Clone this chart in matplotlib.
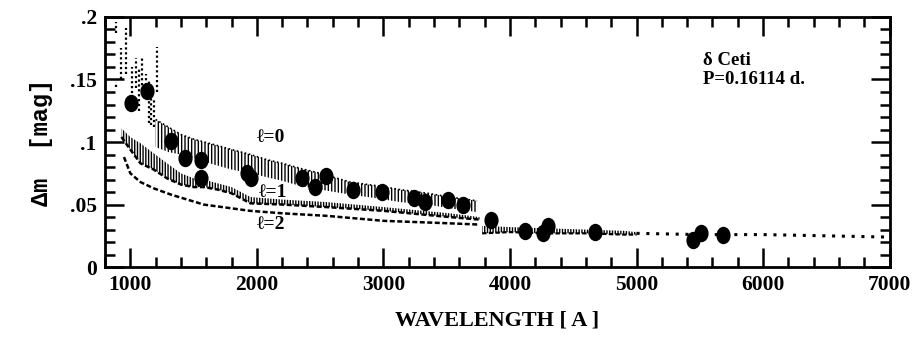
import numpy as np
import matplotlib.pyplot as plt
from matplotlib.path import Path
from matplotlib.transforms import Affine2D
from matplotlib.ticker import MultipleLocator, FixedLocator

plt.rcParams['font.family'] = ['Liberation Serif', 'DejaVu Serif']
plt.rcParams['font.weight'] = 'bold'
plt.rcParams['axes.labelweight'] = 'bold'
plt.rcParams['hatch.linewidth'] = 1.0

# --- observed amplitudes (filled circles) ---
obs_wave = [1005, 1130, 1320, 1430, 1560, 1560, 1920, 1950, 2355, 2460, 2550,
            2760, 2990, 3240, 3330, 3510, 3630, 3850, 4120, 4260, 4300, 4670,
            5445, 5510, 5680]
obs_dm = [0.131, 0.141, 0.101, 0.087, 0.086, 0.071, 0.075, 0.071, 0.071, 0.064,
          0.073, 0.062, 0.060, 0.055, 0.052, 0.054, 0.050, 0.038, 0.029, 0.027,
          0.033, 0.028, 0.022, 0.027, 0.026]

# --- l=0 model: scattered columns at short wavelengths ---
l0_col_wave = [890, 890, 925, 965, 1010, 1045, 1065, 1090, 1125, 1145, 1165,
               1185, 1210]
l0_col_lo = [0.187, 0.144, 0.150, 0.154, 0.135, 0.143, 0.125, 0.138, 0.138,
             0.115, 0.114, 0.112, 0.140]
l0_col_hi = [0.196, 0.148, 0.175, 0.191, 0.160, 0.167, 0.160, 0.167, 0.154,
             0.150, 0.140, 0.135, 0.176]

# --- l=0 model band ---
l0_wave = [1200, 1300, 1400, 1510, 1660, 1800, 1950, 2075, 2200, 2340, 2500,
           2735, 2950, 3130, 3350, 3525, 3740]
l0_hi = [0.118, 0.112, 0.106, 0.102, 0.098, 0.094, 0.090, 0.086, 0.083, 0.079,
         0.075, 0.068, 0.065, 0.062, 0.059, 0.056, 0.053]
l0_lo = [0.096, 0.092, 0.090, 0.087, 0.082, 0.078, 0.075, 0.072, 0.069, 0.065,
         0.062, 0.058, 0.055, 0.052, 0.050, 0.047, 0.044]

# --- l=1 model band ---
l1_wave = [930, 1000, 1080, 1185, 1290, 1400, 1500, 1580, 1690, 1800, 1950,
           2205, 2550, 3000, 3525, 3760]
l1_hi = [0.111, 0.104, 0.099, 0.091, 0.083, 0.075, 0.071, 0.070, 0.067, 0.064,
         0.056, 0.054, 0.052, 0.048, 0.043, 0.040]
l1_lo = [0.104, 0.094, 0.083, 0.078, 0.071, 0.066, 0.064, 0.064, 0.062, 0.059,
         0.051, 0.050, 0.048, 0.045, 0.040, 0.038]

# --- l=2 model curve ---
l2_wave = [950, 1000, 1080, 1185, 1320, 1450, 1580, 1800, 1945, 2205, 2550,
           3000, 3525, 3760]
l2_dm = [0.088, 0.075, 0.068, 0.063, 0.058, 0.054, 0.050, 0.047, 0.045, 0.043,
         0.041, 0.037, 0.035, 0.034]

# --- merged models, long wavelengths ---
mg_wave = [3780, 4000, 4300, 4600, 4900, 5000]
mg_hi = [0.033, 0.032, 0.031, 0.030, 0.029, 0.028]
mg_lo = [0.027, 0.028, 0.027, 0.027, 0.026, 0.026]
tail_wave = [5000, 5500, 6000, 6500, 7000]
tail_dm = [0.027, 0.026, 0.026, 0.025, 0.024]

x_ticks = [1000, 2000, 3000, 4000, 5000, 6000, 7000]
y_ticks = [0, 0.05, 0.1, 0.15, 0.2]
y_labels = ['0', '.05', '.1', '.15', '.2']

fig = plt.figure(figsize=(9.21, 3.46), dpi=100)
ax = fig.add_axes([0.114, 0.228, 0.852, 0.723])

# models
ax.vlines(l0_col_wave, l0_col_lo, l0_col_hi, colors='black',
          linestyles=(0, (1, 1.2)), linewidth=1.6)
ax.fill_between(l0_wave, l0_lo, l0_hi, facecolor='none', edgecolor='black',
                hatch='|||||', linewidth=0)
ax.plot(l0_wave, l0_hi, color='black', linestyle=(0, (1, 1.5)), linewidth=1.2)
ax.fill_between(l1_wave, l1_lo, l1_hi, facecolor='none', edgecolor='black',
                hatch='||||||', linewidth=0)
ax.plot(l1_wave, l1_lo, color='black', linestyle=(0, (2, 1)), linewidth=1.8)
ax.plot(l2_wave, l2_dm, color='black', linestyle=(0, (2, 1)), linewidth=1.8)
ax.fill_between(mg_wave, mg_lo, mg_hi, facecolor='none', edgecolor='black',
                hatch='||||||', linewidth=0)
ax.plot(mg_wave, mg_lo, color='black', linestyle=(0, (2, 1)), linewidth=1.6)
ax.plot(tail_wave, tail_dm, color='black', linestyle=(0, (1, 2.2)), linewidth=2.2)

# observations: slightly tall filled ellipses
ell = Path.unit_circle().transformed(Affine2D().scale(1.0, 1.25))
ax.plot(obs_wave, obs_dm, linestyle='none', marker=ell, markersize=11.5,
        color='black')

ax.text(2000, 0.104, '\u2113=0', fontsize=14, ha='left', va='center')
ax.text(2020, 0.060, '\u2113=1', fontsize=14, ha='left', va='center')
ax.text(2000, 0.034, '\u2113=2', fontsize=14, ha='left', va='center')

ax.text(0.762, 0.86, '\u03b4 Ceti\nP=0.16114 d.', transform=ax.transAxes,
        fontsize=13.5, ha='left', va='top', linespacing=1.15)

ax.set_xlim(800, 7000)
ax.set_ylim(0, 0.2)
ax.xaxis.set_major_locator(FixedLocator(x_ticks))
ax.xaxis.set_minor_locator(MultipleLocator(200))
ax.yaxis.set_major_locator(FixedLocator(y_ticks))
ax.yaxis.set_minor_locator(MultipleLocator(0.01))
ax.set_yticklabels(y_labels)
ax.tick_params(which='both', direction='in', top=True, right=True, width=1.8,
               labelsize=15.5)
ax.tick_params(which='major', length=14, pad=6)
ax.tick_params(which='minor', length=7)
for s in ax.spines.values():
    s.set_linewidth(2)

ax.set_xlabel('WAVELENGTH [ A ]', fontsize=16, labelpad=11)
ax.set_ylabel('\u0394m  [mag]', fontsize=17,
              family=['Liberation Mono', 'DejaVu Sans Mono'], labelpad=12)

fig.savefig('out.png', dpi=100)
